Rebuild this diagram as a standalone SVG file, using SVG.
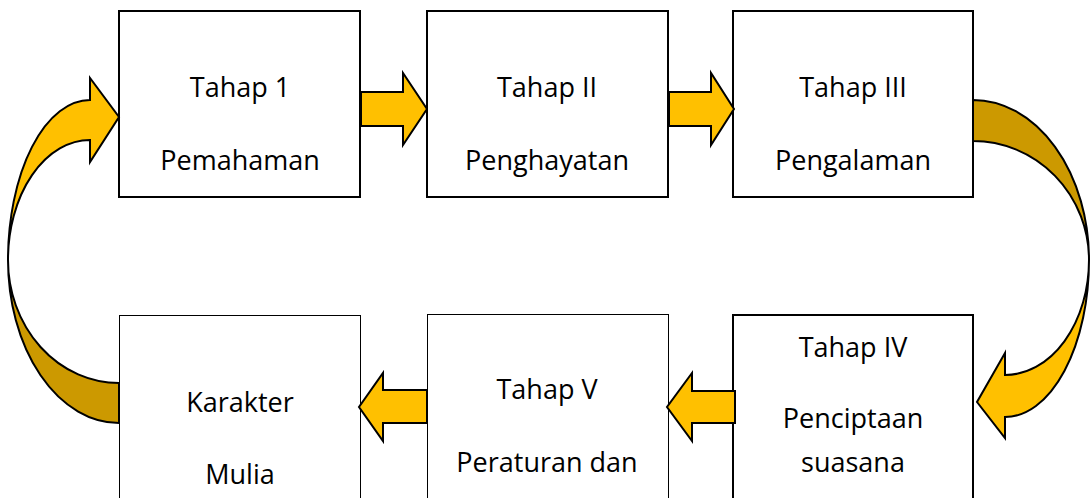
<svg xmlns="http://www.w3.org/2000/svg" width="1091" height="498" viewBox="0 0 1091 498">
<style>
.box{fill:#fff;stroke:#000;stroke-width:2}
.thin{fill:#fff;stroke:#000;stroke-width:1}
.arr{fill:#FFC000;stroke:#000;stroke-width:2;stroke-linejoin:miter}
.dark{fill:#CC9900;stroke:#000;stroke-width:2}
text{font-family:"Open Sans","Liberation Sans",sans-serif;font-size:27px;fill:#000;text-anchor:middle}
</style>
<rect width="1091" height="498" fill="#fff"/>
<g id="n1"><rect class="box" x="119" y="11" width="241" height="186"/><text x="240" y="97">Tahap 1</text><text x="240" y="170">Pemahaman</text></g>
<g id="n2"><rect class="box" x="427" y="11" width="241" height="186"/><text x="547" y="97">Tahap II</text><text x="547" y="170">Penghayatan</text></g>
<g id="n3"><rect class="box" x="733" y="11" width="240" height="186"/><text x="853" y="97">Tahap III</text><text x="853" y="170">Pengalaman</text></g>
<g id="n4"><rect class="box" x="733" y="315" width="240" height="200"/><text x="853" y="357">Tahap IV</text><text x="853" y="428">Penciptaan</text><text x="853" y="472">suasana</text></g>
<g id="n5"><rect class="thin" x="427.5" y="314.5" width="241" height="200"/><text x="547" y="399">Tahap V</text><text x="547" y="472">Peraturan dan</text></g>
<g id="n6"><rect class="thin" x="119.5" y="315.5" width="241" height="200"/><text x="240" y="412">Karakter</text><text x="240" y="484">Mulia</text></g>
<g id="connectors">
<polygon class="arr" points="361,92 403,92 403,73 427,109 403,145 403,126 361,126"/>
<polygon class="arr" points="669,92 711,92 711,73 734,109 711,145 711,126 669,126"/>
<polygon class="arr" points="427,390 383,390 383,373 359,407 383,441 383,423 427,423"/>
<polygon class="arr" points="735,391 692,391 692,373 667,407 692,441 692,423 735,423"/>
<path class="dark" d="M119 423 A111 163 0 0 1 8 260 A111 123 0 0 0 119 383 Z"/>
<path class="arr" d="M8 260 A82 160 0 0 1 90 100 L90 78 L119 117 L90 162 L90 140 A82 120 0 0 0 8 260 Z"/>
<path class="dark" d="M973 100 A116 160 0 0 1 1089 260 A116 119 0 0 0 973 141 Z"/>
<path class="arr" d="M1089 260 A84 157 0 0 1 1005 417 L1005 438 L977 402 L1005 353 L1005 375 A84 115 0 0 0 1089 260 Z"/>
</g>
</svg>
